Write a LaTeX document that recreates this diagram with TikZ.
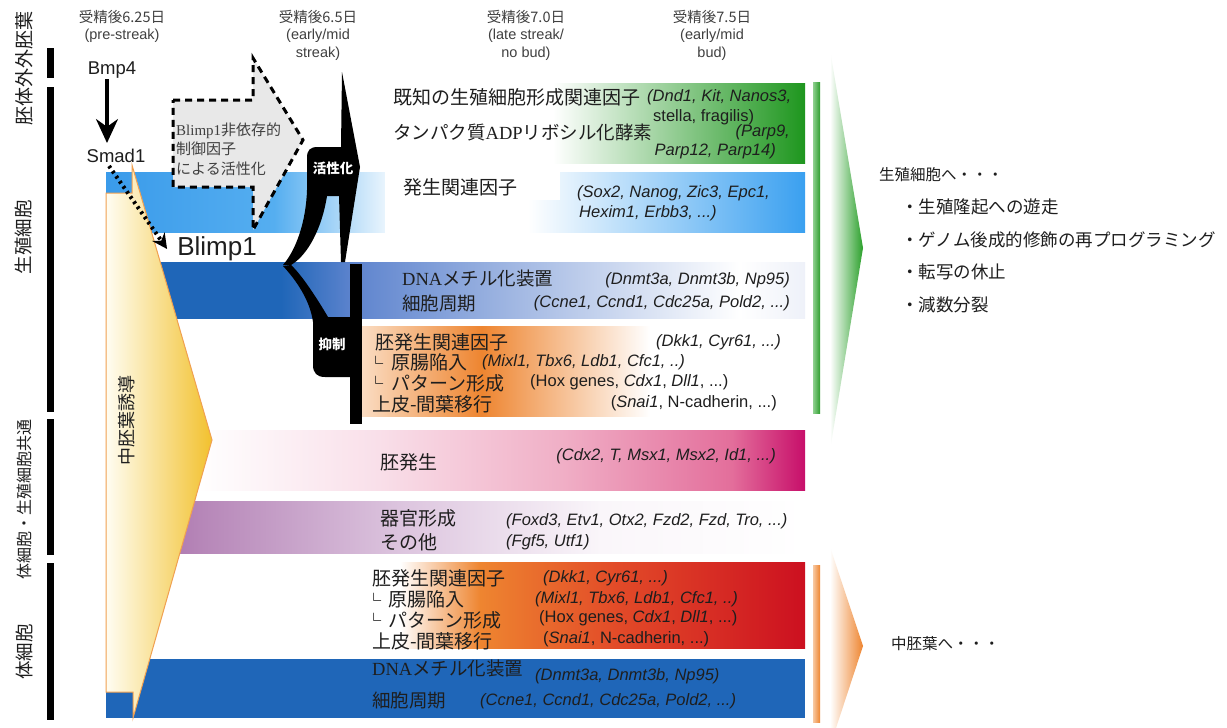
\documentclass[tikz,border=0pt]{standalone}
\usepackage{fontspec}
\setmainfont{Liberation Sans}
\newfontfamily\jp{Noto Sans CJK JP}
\newfontfamily\rmser{Liberation Serif}
\usetikzlibrary{arrows.meta}
\definecolor{txt}{HTML}{1E1E1E}
\definecolor{grn}{HTML}{1E961E}
\definecolor{blueA}{HTML}{3A9BEA}
\definecolor{blueB}{HTML}{55AEF0}
\definecolor{blueC}{HTML}{EAF5FD}
\definecolor{blueR}{HTML}{3AA0F0}
\definecolor{dkblue}{HTML}{1F66B8}
\definecolor{medblue}{HTML}{5E84CE}
\definecolor{lavw}{HTML}{EEF1F9}
\definecolor{orng}{HTML}{EE8530}
\definecolor{peach}{HTML}{FADCC2}
\definecolor{pinkA}{HTML}{F9DFE9}
\definecolor{pinkB}{HTML}{F0AFC6}
\definecolor{pinkC}{HTML}{E36E9B}
\definecolor{magen}{HTML}{C70F6A}
\definecolor{purA}{HTML}{AA72AC}
\definecolor{purB}{HTML}{B686B8}
\definecolor{purC}{HTML}{DCC4DE}
\definecolor{purD}{HTML}{FAF6FA}
\definecolor{redA}{HTML}{E24A28}
\definecolor{redB}{HTML}{CC1020}
\definecolor{gold}{HTML}{F2C12E}
\definecolor{ylw}{HTML}{FFFDF2}
\definecolor{orline}{HTML}{F0A050}
\definecolor{grayfill}{HTML}{E8E8E8}
\definecolor{arrgrn}{HTML}{2BA02B}
\definecolor{barL}{HTML}{8FD08F}
\definecolor{barR}{HTML}{2E9E2E}
\pgfdeclarehorizontalshading{greenband}{100bp}{color(0bp)=(white); color(25bp)=(white); color(45bp)=(white); color(75bp)=(grn); color(100bp)=(grn)}
\pgfdeclarehorizontalshading{blueL}{100bp}{color(0bp)=(blueA); color(25bp)=(blueA); color(55bp)=(blueB); color(75bp)=(blueC); color(100bp)=(blueC)}
\pgfdeclarehorizontalshading{blueRs}{100bp}{color(0bp)=(white); color(25bp)=(white); color(42bp)=(white); color(75bp)=(blueR); color(100bp)=(blueR)}
\pgfdeclarehorizontalshading{darkband}{100bp}{color(0bp)=(dkblue); color(25bp)=(dkblue); color(35bp)=(dkblue); color(40.5bp)=(medblue); color(70bp)=(white); color(75bp)=(lavw); color(100bp)=(lavw)}
\pgfdeclarehorizontalshading{orangeband}{100bp}{color(0bp)=(peach); color(25bp)=(peach); color(38.5bp)=(orng); color(57.5bp)=(white); color(75bp)=(white); color(100bp)=(white)}
\pgfdeclarehorizontalshading{pinkband}{100bp}{color(0bp)=(white); color(25bp)=(white); color(40bp)=(pinkA); color(55bp)=(pinkB); color(69bp)=(pinkC); color(75bp)=(magen); color(100bp)=(magen)}
\pgfdeclarehorizontalshading{purpleband}{100bp}{color(0bp)=(purA); color(25bp)=(purA); color(28.8bp)=(purB); color(44bp)=(purC); color(59.4bp)=(purD); color(75bp)=(white); color(100bp)=(white)}
\pgfdeclarehorizontalshading{redband}{100bp}{color(0bp)=(white); color(25bp)=(white); color(29.5bp)=(white); color(38.5bp)=(orng); color(54bp)=(redA); color(75bp)=(redB); color(100bp)=(redB)}
\tikzset{
  hdr/.style={font=\jp\fontsize{14.5}{15}\selectfont, text=txt!85, inner sep=0pt},
  hdrl/.style={font=\fontsize{14.5}{15}\selectfont, text=txt!85, inner sep=0pt},
  vlab/.style={font=\jp\fontsize{18.5}{19}\selectfont, text=txt, rotate=90, inner sep=0pt},
  jpa/.style={font=\jp\fontsize{19}{20}\selectfont, text=txt, inner sep=0pt},
  jpr/.style={font=\jp\fontsize{17.5}{19}\selectfont, text=txt, inner sep=0pt, anchor=west},
  gene/.style={font=\fontsize{16.5}{18}\selectfont\itshape, text=txt, inner sep=0pt},
  generm/.style={font=\fontsize{16.5}{18}\selectfont, text=txt, inner sep=0pt},
  corner/.style={font=\jp\fontsize{11}{12}\selectfont, text=txt, inner sep=0pt},
  wlab/.style={font=\jp\bfseries\fontsize{13.5}{14}\selectfont, text=white, inner sep=0pt},
  biglab/.style={font=\fontsize{18.5}{20}\selectfont, text=txt, inner sep=1pt},
}
\begin{document}
\begin{tikzpicture}[x=1pt,y=-1pt]
\useasboundingbox (0,0) rectangle (1227,728);
\fill[white] (0,0) rectangle (1227,728);

% ---------- bands ----------
\shade[shading=greenband] (385,83) rectangle (805,163);
\shade[shading=blueL] (106,172) rectangle (386,232);
\shade[shading=blueRs] (385,172) rectangle (805,232);
\fill[white] (387,172) rectangle (560,200);
\shade[shading=darkband] (150,262) rectangle (805,318);
\shade[shading=orangeband] (362,326) rectangle (805,416);
\shade[shading=pinkband] (196,430) rectangle (805,490);
\shade[shading=purpleband] (150,501) rectangle (805,553);
\shade[shading=redband] (360,562) rectangle (805,648);
\fill[dkblue] (106,659) rectangle (805,718);

% ---------- mesoderm induction shape ----------
\shadedraw[left color=ylw, right color=gold, draw=orline, line width=1pt]
  (106,193) -- (132,193) -- (132,165) -- (212,440) -- (133,718) -- (133,692) -- (106,692) -- cycle;
\node[vlab, font=\jp\fontsize{18}{19}\selectfont] (meso) at (127,420) {中胚葉誘導};

% ---------- right side bars and arrows ----------
\shade[left color=barL, right color=barR] (813,82) rectangle (820,413);
\shade[left color=white, right color=arrgrn] (830,50) -- (863,248) -- (830,450) -- cycle;
\shade[left color=orng!45, right color=orng] (813,565) rectangle (820,722);
\shade[left color=white, right color=orng] (830,547) -- (863,646) -- (836,728) -- (830,728) -- cycle;

% ---------- left side bars ----------
\fill[black] (47,48) rectangle (54,78);
\fill[black] (47,87) rectangle (54,412);
\fill[black] (47,419) rectangle (54,555);
\fill[black] (47,563) rectangle (54,720);
\node[vlab, font=\jp\fontsize{19}{19}\selectfont] (v1) at (24,68) {胚体外外胚葉};
\node[vlab] (v2) at (24,237) {生殖細胞};
\node[vlab, font=\jp\fontsize{16}{16}\selectfont] (v3) at (24,499) {体細胞・生殖細胞共通};
\node[vlab] (v4) at (24,652) {体細胞};

% ---------- dashed block arrow ----------
\filldraw[fill=grayfill, draw=black, line width=3pt, dash pattern=on 7pt off 5pt]
  (173,100) -- (253,100) -- (253,58) -- (303,140) -- (253,230) -- (253,187) -- (173,187) -- cycle;
\node[font=\jp\fontsize{15}{19.5}\selectfont, text=txt!85, align=left, anchor=west, inner sep=0pt] (indep) at (176,149)
  {{\rmser Blimp1}非依存的\\制御因子\\による活性化};

% ---------- activation shape ----------
\fill[black] (283,265) .. controls (296,250) and (306,222) .. (307,190) -- (307,158)
  .. controls (307,150) and (310,147) .. (318,147) -- (341,147) -- (342,72) -- (360,167)
  -- (345,262) -- (341,262) -- (339,196) -- (327,196)
  .. controls (322,228) and (308,255) .. (291,265) -- cycle;
\node[wlab] (act) at (333,168) {活性化};

% ---------- repression shape ----------
\fill[black] (283,266) .. controls (296,280) and (310,300) .. (313,322) -- (313,365)
  .. controls (313,373) and (317,377) .. (325,377) -- (352,377) -- (352,317) -- (328,317)
  .. controls (318,300) and (302,275) .. (291,265) -- cycle;
\fill[black] (350,264) rectangle (362,424);
\node[wlab] (rep) at (332,344) {抑制};

% ---------- headers ----------
\node[hdr] (h1a) at (122,17) {受精後6.25日};
\node[hdrl] (h1b) at (122,36) {(pre-streak)};
\node[hdr] (h2a) at (318,17) {受精後6.5日};
\node[hdrl] (h2b) at (318,36) {(early/mid};
\node[hdrl] (h2c) at (318,54) {streak)};
\node[hdr] (h3a) at (526,17) {受精後7.0日};
\node[hdrl] (h3b) at (526,36) {(late streak/};
\node[hdrl] (h3c) at (526,54) {no bud)};
\node[hdr] (h4a) at (712,17) {受精後7.5日};
\node[hdrl] (h4b) at (712,36) {(early/mid};
\node[hdrl] (h4c) at (712,54) {bud)};

% ---------- signalling ----------
\node[biglab] (bmp) at (112,70) {Bmp4};
\node[biglab] (smad) at (116,156) {Smad1};
\node[font=\fontsize{26}{28}\selectfont, text=txt, inner sep=1pt] (blimp) at (217,249) {Blimp1};
\draw[line width=3.2pt, -{Stealth[length=24pt,width=22pt]}] ([xshift=-5pt]bmp.south) -- ([xshift=-9pt,yshift=5pt]smad.north);
\draw[line width=4pt, dash pattern=on 2.6pt off 3.6pt, -{Stealth[length=15pt,width=15pt]}] ([xshift=-7pt,yshift=-2pt]smad.south) -- ([xshift=-9pt]blimp.west);

% ---------- green band text ----------
\node[jpa, anchor=west] (g1) at (393,97) {既知の生殖細胞形成関連因子};
\node[gene, anchor=west] (g1g) at (647,97) {(Dnd1, Kit, Nanos3,};
\node[generm, anchor=west] (g1h) at (653,117) {stella, fragilis)};
\node[jpa, anchor=west, font=\jp\fontsize{18.5}{20}\selectfont] (g2) at (393,132) {タンパク質{\rmser ADP}リボシル化酵素};
\node[gene, anchor=east] (g2g) at (790,132) {(Parp9,};
\node[gene, anchor=east] (g2h) at (776,151) {Parp12, Parp14)};

% ---------- light blue band text ----------
\node[jpa, anchor=west] (b1) at (403,187) {発生関連因子};
\node[gene, anchor=west] (b1g) at (577,193) {(Sox2, Nanog, Zic3, Epc1,};
\node[gene, anchor=west] (b1h) at (579,213) {Hexim1, Erbb3, ...)};

% ---------- dark blue band text ----------
\node[jpa, anchor=west, font=\jp\fontsize{18.5}{20}\selectfont] (d1) at (402,279) {{\rmser DNA}メチル化装置};
\node[gene, anchor=east] (d1g) at (790,280) {(Dnmt3a, Dnmt3b, Np95)};
\node[jpa, anchor=west, font=\jp\fontsize{18.5}{20}\selectfont] (d2) at (402,304) {細胞周期};
\node[gene, anchor=east] (d2g) at (790,303) {(Ccne1, Ccnd1, Cdc25a, Pold2, ...)};

% ---------- orange band text ----------
\node[jpa, anchor=west] (o1) at (375,342) {胚発生関連因子};
\node[gene, anchor=east] (o1g) at (781,342) {(Dkk1, Cyr61, ...)};
\node[corner] (o2s) at (379,360) {∟};
\node[jpa, anchor=west] (o2) at (391,362) {原腸陥入};
\node[gene, anchor=west] (o2g) at (482,362) {(Mixl1, Tbx6, Ldb1, Cfc1, ..)};
\node[corner] (o3s) at (379,380) {∟};
\node[jpa, anchor=west] (o3) at (391,383) {パターン形成};
\node[generm, anchor=west] (o3g) at (530,382) {(Hox genes, \textit{Cdx1}, \textit{Dll1}, ...)};
\node[jpa, anchor=west] (o4) at (372,404) {上皮-間葉移行};
\node[generm, anchor=east] (o4g) at (777,403) {(\textit{Snai1}, N-cadherin, ...)};

% ---------- pink / purple band text ----------
\node[jpa, anchor=west] (p1) at (380,462) {胚発生};
\node[gene, anchor=east] (p1g) at (776,456) {(Cdx2, T, Msx1, Msx2, Id1, ...)};
\node[jpa, anchor=west] (q1) at (380,518) {器官形成};
\node[gene, anchor=west] (q1g) at (506,521) {(Foxd3, Etv1, Otx2, Fzd2, Fzd, Tro, ...)};
\node[jpa, anchor=west] (q2) at (380,542) {その他};
\node[gene, anchor=west] (q2g) at (506,542) {(Fgf5, Utf1)};

% ---------- red band text ----------
\node[jpa, anchor=west] (e1) at (372,578) {胚発生関連因子};
\node[gene, anchor=west] (e1g) at (543,578) {(Dkk1, Cyr61, ...)};
\node[corner] (e2s) at (377,597) {∟};
\node[jpa, anchor=west] (e2) at (388,599) {原腸陥入};
\node[gene, anchor=west] (e2g) at (535,599) {(Mixl1, Tbx6, Ldb1, Cfc1, ..)};
\node[corner] (e3s) at (377,617) {∟};
\node[jpa, anchor=west] (e3) at (388,620) {パターン形成};
\node[generm, anchor=west] (e3g) at (539,618) {(Hox genes, \textit{Cdx1}, \textit{Dll1}, ...)};
\node[jpa, anchor=west] (e4) at (372,641) {上皮-間葉移行};
\node[generm, anchor=west] (e4g) at (543,639) {(\textit{Snai1}, N-cadherin, ...)};

% ---------- bottom blue band text ----------
\node[jpa, anchor=west, font=\jp\fontsize{18.5}{20}\selectfont] (f1) at (372,669) {{\rmser DNA}メチル化装置};
\node[gene, anchor=west] (f1g) at (535,676) {(Dnmt3a, Dnmt3b, Np95)};
\node[jpa, anchor=west, font=\jp\fontsize{18.5}{20}\selectfont] (f2) at (372,701) {細胞周期};
\node[gene, anchor=west] (f2g) at (480,701) {(Ccne1, Ccnd1, Cdc25a, Pold2, ...)};

% ---------- right texts ----------
\node[jpr, font=\jp\fontsize{15.5}{17}\selectfont] (r0) at (879,175) {生殖細胞へ・・・};
\node[jpr] (r1) at (901,207) {・生殖隆起への遊走};
\node[jpr] (r2) at (901,240) {・ゲノム後成的修飾の再プログラミング};
\node[jpr] (r3) at (901,272) {・転写の休止};
\node[jpr] (r4) at (901,305) {・減数分裂};
\node[jpr, font=\jp\fontsize{15.5}{17}\selectfont] (m0) at (891,644) {中胚葉へ・・・};
\end{tikzpicture}
\end{document}
